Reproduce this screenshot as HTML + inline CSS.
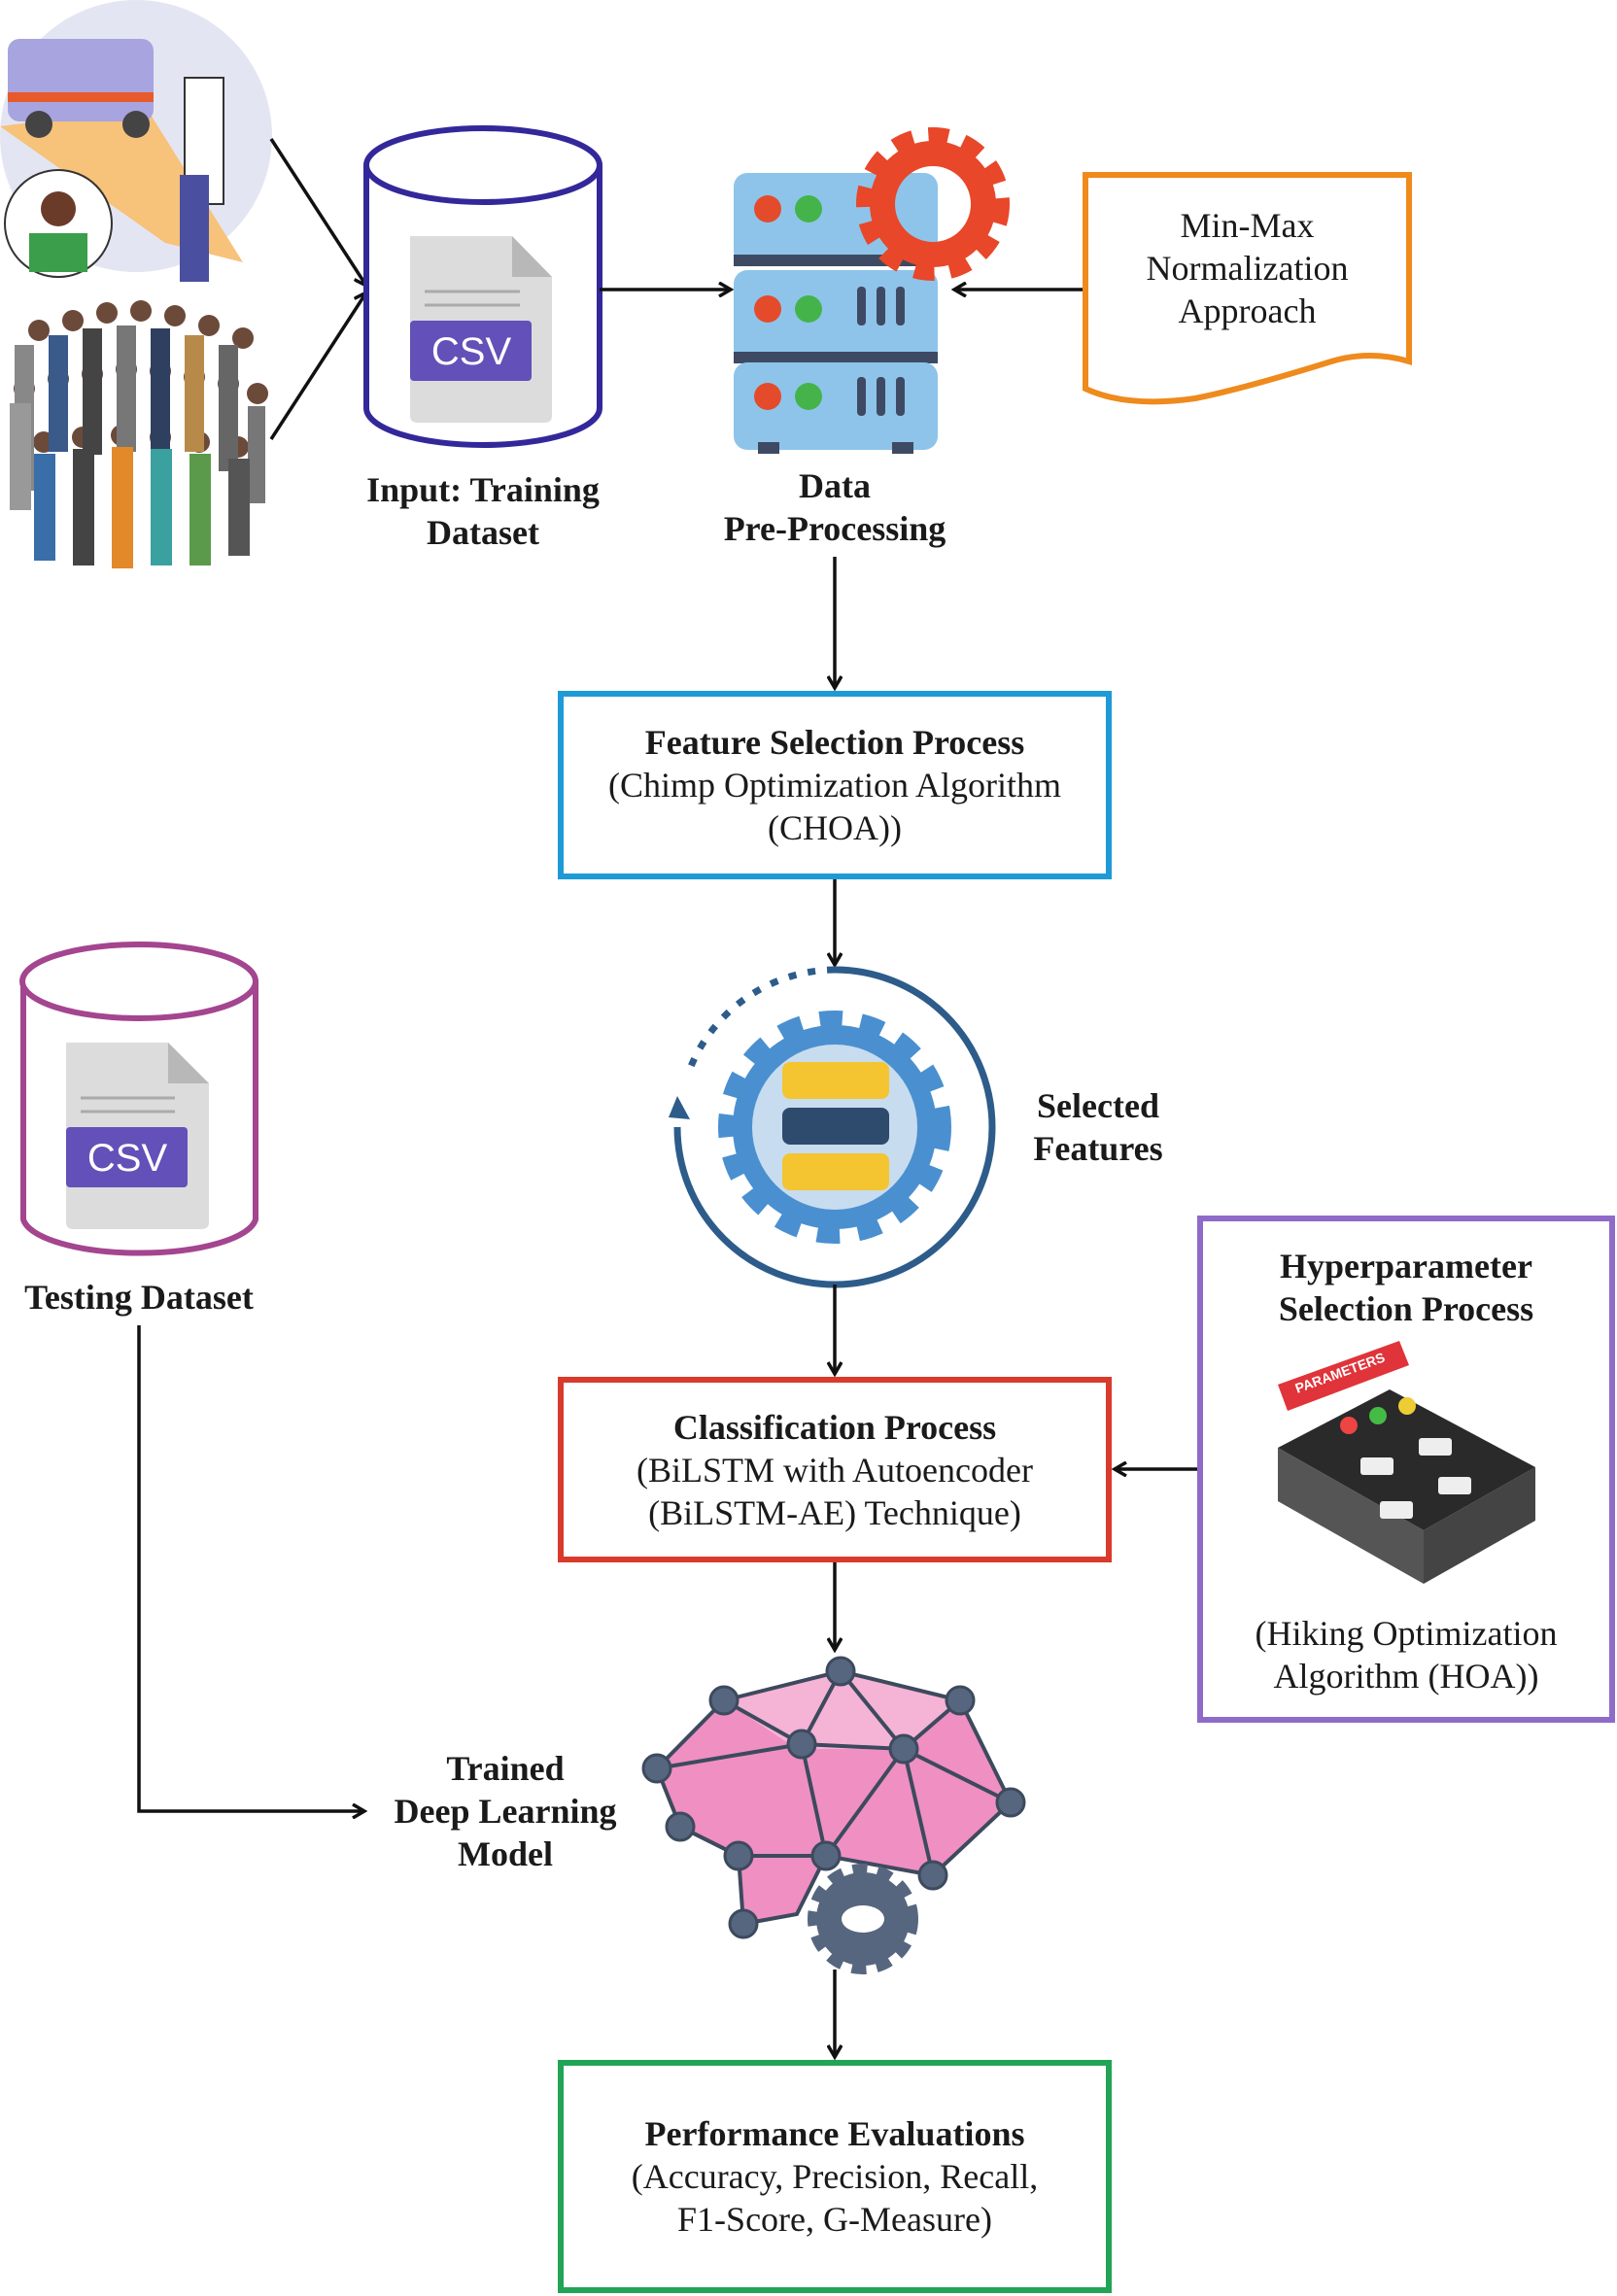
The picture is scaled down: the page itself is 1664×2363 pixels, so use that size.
<!DOCTYPE html>
<html><head><meta charset="utf-8"><style>
body{margin:0;background:#fff;}
.wrap{position:relative;width:1664px;height:2363px;overflow:hidden;background:#fff;font-family:"Liberation Serif",serif;color:#1a1a1a;}
.t{position:absolute;text-align:center;font-size:36px;line-height:44px;}
.b{font-weight:bold;}
.box{position:absolute;box-sizing:border-box;border:6px solid;display:flex;flex-direction:column;justify-content:center;align-items:center;text-align:center;font-size:36px;line-height:44px;}
svg{position:absolute;left:0;top:0;}
</style></head><body><div class="wrap">
<svg width="1664" height="2363" viewBox="0 0 1664 2363">
<defs><marker id="a" markerWidth="16" markerHeight="16" refX="13" refY="8" orient="auto" markerUnits="userSpaceOnUse"><path d="M1,1 L13,8 L1,15" fill="none" stroke="#111" stroke-width="3.5"/></marker></defs>
<!-- top-left illustrations -->
<circle cx="140" cy="140" r="140" fill="#e3e6f2"/>
<polygon points="0,130 170,250 250,270 150,110" fill="#f7c27a"/>
<rect x="8" y="40" width="150" height="85" rx="12" fill="#a8a4e0"/>
<rect x="8" y="95" width="150" height="10" fill="#e85a2a"/>
<circle cx="40" cy="128" r="14" fill="#444"/><circle cx="140" cy="128" r="14" fill="#444"/>
<rect x="190" y="80" width="40" height="130" fill="#fff" stroke="#333" stroke-width="2"/>
<rect x="185" y="180" width="30" height="110" fill="#4a4f9f"/>
<circle cx="60" cy="230" r="55" fill="#fff" stroke="#333" stroke-width="2"/>
<circle cx="60" cy="215" r="18" fill="#6b3b2a"/><rect x="30" y="240" width="60" height="40" fill="#3a9e4a"/>
<g>
<g fill="#6b4a3a">
<circle cx="40" cy="340" r="11"/><circle cx="75" cy="330" r="11"/><circle cx="110" cy="322" r="11"/><circle cx="145" cy="320" r="11"/><circle cx="180" cy="325" r="11"/><circle cx="215" cy="335" r="11"/><circle cx="250" cy="348" r="11"/>
<circle cx="25" cy="400" r="11"/><circle cx="60" cy="390" r="11"/><circle cx="95" cy="385" r="11"/><circle cx="130" cy="380" r="11"/><circle cx="165" cy="382" r="11"/><circle cx="200" cy="388" r="11"/><circle cx="235" cy="395" r="11"/><circle cx="265" cy="405" r="11"/>
<circle cx="45" cy="455" r="11"/><circle cx="85" cy="450" r="11"/><circle cx="125" cy="448" r="11"/><circle cx="165" cy="450" r="11"/><circle cx="205" cy="455" r="11"/><circle cx="245" cy="460" r="11"/>
</g>
<rect x="15" y="355" width="20" height="150" fill="#888"/><rect x="50" y="345" width="20" height="120" fill="#3a5a8a"/>
<rect x="85" y="338" width="20" height="130" fill="#444"/><rect x="120" y="335" width="20" height="130" fill="#777"/>
<rect x="155" y="338" width="20" height="130" fill="#2f3f5f"/><rect x="190" y="345" width="20" height="120" fill="#b88a4a"/>
<rect x="225" y="355" width="20" height="130" fill="#666"/><rect x="255" y="418" width="18" height="100" fill="#777"/>
<rect x="35" y="467" width="22" height="110" fill="#3a6ea8"/><rect x="75" y="462" width="22" height="120" fill="#444"/>
<rect x="115" y="460" width="22" height="125" fill="#e28a2a"/><rect x="155" y="462" width="22" height="120" fill="#3aa0a0"/>
<rect x="195" y="467" width="22" height="115" fill="#5a9a4a"/><rect x="235" y="472" width="22" height="100" fill="#555"/>
<rect x="10" y="415" width="22" height="110" fill="#999"/>
</g>
<!-- arrows to cylinder -->
<line x1="279" y1="143" x2="377" y2="294" stroke="#111" stroke-width="3.5" marker-end="url(#a)"/>
<line x1="279" y1="452" x2="377" y2="301" stroke="#111" stroke-width="3.5" marker-end="url(#a)"/>
<!-- training cylinder -->
<path d="M377,170 L377,420 A120,38 0 0 0 617,420 L617,170" fill="#fff" stroke="#33289a" stroke-width="6"/>
<ellipse cx="497" cy="170" rx="120" ry="38" fill="#fff" stroke="#33289a" stroke-width="6"/>
<path d="M422,243 L527,243 L568,285 L568,428 Q568,435 560,435 L430,435 Q422,435 422,428 Z" fill="#dcdcdc"/>
<path d="M527,243 L568,285 L527,285 Z" fill="#b8b8b8"/>
<line x1="437" y1="300" x2="535" y2="300" stroke="#aaa" stroke-width="3"/><line x1="437" y1="314" x2="535" y2="314" stroke="#aaa" stroke-width="3"/>
<rect x="422" y="330" width="125" height="62" rx="4" fill="#6350b8"/>
<text x="485" y="375" font-family="Liberation Sans" font-size="40" fill="#fff" text-anchor="middle">CSV</text>
<line x1="617" y1="298" x2="752" y2="298" stroke="#111" stroke-width="3.5" marker-end="url(#a)"/>
<!-- server -->
<g>
<rect x="755" y="178" width="210" height="95" rx="14" fill="#8ec4ea"/>
<rect x="755" y="262" width="210" height="12" fill="#3e4a63"/>
<rect x="755" y="278" width="210" height="95" rx="14" fill="#8ec4ea"/>
<rect x="755" y="362" width="210" height="12" fill="#3e4a63"/>
<rect x="755" y="373" width="210" height="90" rx="14" fill="#8ec4ea"/>
<rect x="780" y="455" width="22" height="12" fill="#3e4a63"/><rect x="918" y="455" width="22" height="12" fill="#3e4a63"/>
<circle cx="790" cy="215" r="14" fill="#e44b2b"/><circle cx="832" cy="215" r="14" fill="#44b44a"/>
<circle cx="790" cy="318" r="14" fill="#e44b2b"/><circle cx="832" cy="318" r="14" fill="#44b44a"/>
<circle cx="790" cy="408" r="14" fill="#e44b2b"/><circle cx="832" cy="408" r="14" fill="#44b44a"/>
<g fill="#3e4a63"><rect x="882" y="295" width="9" height="40" rx="4"/><rect x="902" y="295" width="9" height="40" rx="4"/><rect x="922" y="295" width="9" height="40" rx="4"/>
<rect x="882" y="388" width="9" height="40" rx="4"/><rect x="902" y="388" width="9" height="40" rx="4"/><rect x="922" y="388" width="9" height="40" rx="4"/></g>
<circle cx="960" cy="210" r="62" fill="none" stroke="#e8472a" stroke-width="34" stroke-dasharray="18 14"/>
<circle cx="960" cy="210" r="52" fill="none" stroke="#e8472a" stroke-width="26"/>
</g>
<line x1="1115" y1="298" x2="982" y2="298" stroke="#111" stroke-width="3.5" marker-end="url(#a)"/>
<!-- min-max doc -->
<path d="M1117,180 L1450,180 L1450,372 Q1410,360 1370,372 Q1280,400 1230,410 Q1160,420 1117,400 Z" fill="#fff" stroke="#ef8a1c" stroke-width="6"/>
<!-- verticals -->
<line x1="859" y1="573" x2="859" y2="708" stroke="#111" stroke-width="3.5" marker-end="url(#a)"/>
<line x1="859" y1="904" x2="859" y2="993" stroke="#111" stroke-width="3.5" marker-end="url(#a)"/>
<!-- selected features gear -->
<path d="M859,998 A162,162 0 1 1 697,1160" fill="none" stroke="#2d5c8a" stroke-width="7"/>
<path d="M859,998 A162,162 0 0 0 710,1100" fill="none" stroke="#2d5c8a" stroke-width="7" stroke-dasharray="8 12"/>
<path d="M688,1150 L697,1128 L710,1152 Z" fill="#2d5c8a"/>
<circle cx="859" cy="1160" r="105" fill="#4a90d0" stroke="#4a90d0" stroke-width="30" stroke-dasharray="22 18"/>
<circle cx="859" cy="1160" r="85" fill="#c8dcef"/>
<rect x="805" y="1093" width="110" height="38" rx="8" fill="#f4c531"/>
<rect x="805" y="1140" width="110" height="38" rx="8" fill="#2e4b6e"/>
<rect x="805" y="1187" width="110" height="38" rx="8" fill="#f4c531"/>
<line x1="859" y1="1322" x2="859" y2="1414" stroke="#111" stroke-width="3.5" marker-end="url(#a)"/>
<!-- testing cylinder -->
<path d="M24,1010 L24,1255 A120,38 0 0 0 263,1255 L263,1010" fill="#fff" stroke="#a4458f" stroke-width="6"/>
<ellipse cx="143" cy="1010" rx="120" ry="38" fill="#fff" stroke="#a4458f" stroke-width="6"/>
<path d="M68,1073 L173,1073 L215,1115 L215,1258 Q215,1265 207,1265 L76,1265 Q68,1265 68,1258 Z" fill="#dcdcdc"/>
<path d="M173,1073 L215,1115 L173,1115 Z" fill="#b8b8b8"/>
<line x1="83" y1="1130" x2="180" y2="1130" stroke="#aaa" stroke-width="3"/><line x1="83" y1="1144" x2="180" y2="1144" stroke="#aaa" stroke-width="3"/>
<rect x="68" y="1160" width="125" height="62" rx="4" fill="#6350b8"/>
<text x="131" y="1205" font-family="Liberation Sans" font-size="40" fill="#fff" text-anchor="middle">CSV</text>
<polyline points="143,1364 143,1864 375,1864" fill="none" stroke="#111" stroke-width="3.5" marker-end="url(#a)"/>
<!-- hyper arrow -->
<line x1="1232" y1="1512" x2="1147" y2="1512" stroke="#111" stroke-width="3.5" marker-end="url(#a)"/>
<line x1="859" y1="1608" x2="859" y2="1698" stroke="#111" stroke-width="3.5" marker-end="url(#a)"/>
<!-- parameters icon -->
<g>
<polygon points="1315,1490 1430,1430 1580,1510 1465,1575" fill="#2a2a2a"/>
<polygon points="1315,1490 1465,1575 1465,1630 1315,1545" fill="#555"/>
<polygon points="1465,1575 1580,1510 1580,1565 1465,1630" fill="#444"/>
<polygon points="1315,1425 1440,1380 1450,1405 1325,1452" fill="#e0343a"/>
<text x="1335" y="1434" font-family="Liberation Sans" font-size="14" font-weight="bold" fill="#fff" transform="rotate(-20 1335 1434)">PARAMETERS</text>
<circle cx="1388" cy="1467" r="9" fill="#e44"/><circle cx="1418" cy="1457" r="9" fill="#4b4"/><circle cx="1448" cy="1447" r="9" fill="#ec3"/>
<g fill="#eee"><rect x="1400" y="1500" width="34" height="18" rx="3"/><rect x="1460" y="1480" width="34" height="18" rx="3"/><rect x="1480" y="1520" width="34" height="18" rx="3"/><rect x="1420" y="1545" width="34" height="18" rx="3"/></g>
</g>
<!-- brain -->
<g>
<polygon points="676,1820 745,1750 865,1720 988,1750 1040,1855 960,1930 850,1910 820,1970 765,1980 760,1910 700,1880" fill="#ef8fc2"/>
<polygon points="745,1750 865,1720 988,1750 930,1800 820,1800" fill="#f5b3d5"/>
<g stroke="#3d4a5e" stroke-width="4" fill="none">
<polyline points="676,1820 745,1750 865,1720 988,1750 1040,1855 960,1930 850,1910 820,1970 765,1980 760,1910 700,1880 676,1820"/>
<polyline points="745,1750 825,1795 865,1720 930,1800 988,1750"/>
<polyline points="676,1820 825,1795 930,1800 1040,1855"/>
<polyline points="825,1795 850,1910 930,1800 960,1930"/>
<polyline points="700,1880 760,1910 850,1910"/>
</g>
<g fill="#56667f" stroke="#3d4a5e" stroke-width="3">
<circle cx="676" cy="1820" r="14"/><circle cx="745" cy="1750" r="14"/><circle cx="865" cy="1720" r="14"/><circle cx="988" cy="1750" r="14"/><circle cx="1040" cy="1855" r="14"/><circle cx="960" cy="1930" r="14"/><circle cx="850" cy="1910" r="14"/><circle cx="765" cy="1980" r="14"/><circle cx="760" cy="1910" r="14"/><circle cx="700" cy="1880" r="14"/><circle cx="825" cy="1795" r="14"/><circle cx="930" cy="1800" r="14"/>
</g>
<circle cx="888" cy="1975" r="48" fill="#56667f" stroke="#56667f" stroke-width="18" stroke-dasharray="14 10"/>
<ellipse cx="888" cy="1975" rx="22" ry="14" fill="#fff"/>
</g>
<line x1="859" y1="2027" x2="859" y2="2117" stroke="#111" stroke-width="3.5" marker-end="url(#a)"/>
</svg>

<div class="t" style="left:1117px;width:333px;top:210px;">Min-Max<br>Normalization<br>Approach</div>
<div class="t b" style="left:340px;width:314px;top:482px;">Input: Training<br>Dataset</div>
<div class="t b" style="left:700px;width:318px;top:478px;">Data<br>Pre-Processing</div>
<div class="box" style="left:574px;top:711px;width:570px;height:194px;border-color:#1e9ad6;"><b>Feature Selection Process</b>(Chimp Optimization Algorithm<br>(CHOA))</div>
<div class="t b" style="left:1020px;width:220px;top:1116px;">Selected<br>Features</div>
<div class="t b" style="left:0;width:286px;top:1313px;">Testing Dataset</div>
<div class="box" style="left:574px;top:1417px;width:570px;height:191px;border-color:#d93a2b;"><b>Classification Process</b>(BiLSTM with Autoencoder<br>(BiLSTM-AE) Technique)</div>
<div class="box" style="left:1232px;top:1251px;width:430px;height:522px;border-color:#8e6bc8;justify-content:space-between;padding:24px 0 20px;"><b>Hyperparameter<br>Selection Process</b><span>(Hiking Optimization<br>Algorithm (HOA))</span></div>
<div class="t b" style="left:370px;width:300px;top:1798px;">Trained<br>Deep Learning<br>Model</div>
<div class="box" style="left:574px;top:2120px;width:570px;height:240px;border-color:#22a355;"><b>Performance Evaluations</b>(Accuracy, Precision, Recall,<br>F1-Score, G-Measure)</div>
</div></body></html>
